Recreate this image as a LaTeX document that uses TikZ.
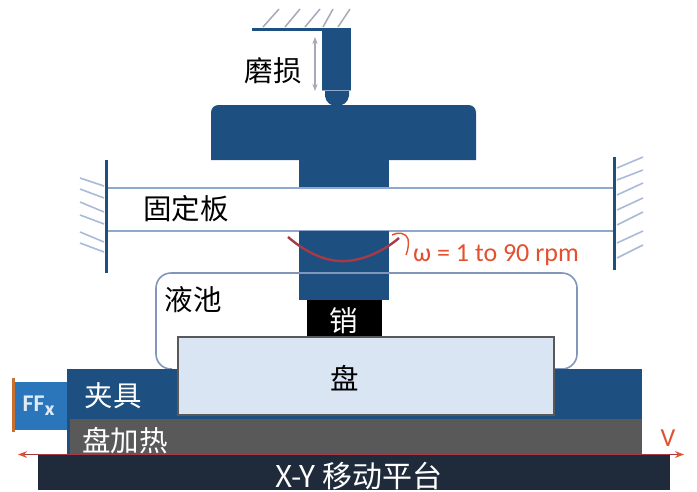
\documentclass[tikz,border=0pt]{standalone}
\usepackage{fontspec}
\usepackage{xcolor}
\setmainfont{Noto Sans CJK SC}
\newfontfamily\latinfont{Carlito}
\usetikzlibrary{arrows.meta}
\definecolor{steel}{HTML}{1D4F80}
\definecolor{plateline}{HTML}{8FA8CC}
\definecolor{pathblue}{HTML}{8296BC}
\definecolor{hatchgray}{HTML}{A8A8B8}
\definecolor{sideblue}{HTML}{A9BBD8}
\definecolor{diskfill}{HTML}{DAE5F3}
\definecolor{heatergray}{HTML}{595959}
\definecolor{stagedark}{HTML}{1F2A3B}
\definecolor{ffblue}{HTML}{2B75BA}
\definecolor{barorange}{HTML}{C8702F}
\definecolor{redline}{HTML}{A83A48}
\definecolor{redtext}{HTML}{E2502F}
\tikzset{
	darklabel/.style={text=black,font=\fontsize{28.5}{28.5}\selectfont,inner sep=0pt},
	lightlabel/.style={text=white,font=\fontsize{28.5}{28.5}\selectfont,inner sep=0pt},
	hatchline/.style={hatchgray,line width=1.5pt},
	sidehatch/.style={sideblue,line width=1.6pt},
}
\begin{document}
\begin{tikzpicture}[x=1pt,y=-1pt]
	\useasboundingbox (0,0) rectangle (697,491);
	
	\foreach \i/\j in {263/279,285/300,305/320,323/333,338/350}{
		\draw[hatchline] (\i,27) -- (\j,9);
	}
	\draw[steel,line width=3pt] (252,29) -- (351,29);
	\fill[steel] (322,29) rectangle (351,90);
	\fill[steel] (325,90) -- (349,90) -- (349,96) .. controls (348,103) and (342,106) .. (337,106) .. controls (331,106) and (326,103) .. (325,96) -- cycle;
	\draw[plateline,line width=0.8pt] (322,90) -- (351,90);
	\draw[{Stealth[length=7pt]}-{Stealth[length=7pt]},hatchgray,line width=1.5pt] (315,37) -- (315,91);
	\fill[steel] (211,160) -- (211,113) .. controls (211,108) and (214,105) .. (219,105) -- (468,105) .. controls (473,105) and (476,108) .. (476,113) -- (476,160) -- cycle;
	\fill[steel] (299,160) rectangle (389,188);
	
	\draw[plateline,line width=2.4pt] (106,188) -- (614,188);
	\draw[plateline,line width=2.4pt] (106,231) -- (614,231);
	\draw[steel,line width=3pt] (106,160) -- (106,273);
	\draw[steel,line width=3pt] (614,157) -- (614,270);
	\foreach \i/\j in {178/186,189/198,202/212,215/224,232/242,243/252}{
		\draw[sidehatch] (80,\i) -- (104,\j);
	}
	\foreach \i/\j in {168/157,180/170,195/183,210/198,225/212,243/231,258/245}{
		\draw[sidehatch] (617,\i) -- (643,\j);
	}
	
	\fill[steel] (299,231) rectangle (389,300);
	\draw[pathblue,line width=1.6pt,rounded corners=15pt] (172,369) -- (156,369) -- (156,273) -- (577,273) -- (577,369) -- (554,369);
	\fill[black] (307,300) rectangle (382,337);
	
	\fill[steel] (67,369) rectangle (642,419);
	\fill[heatergray] (70,419) rectangle (642,454);
	\fill[steel] (67,419) rectangle (70,454);
	\fill[ffblue] (15,382) rectangle (67,430);
	\draw[barorange,line width=3pt] (13,378) -- (13,432);
	\draw[diskfill,fill=diskfill] (178,337) rectangle (554,415);
	\draw[heatergray,line width=2pt] (178,337) rectangle (554,415);
	\fill[stagedark] (38,455) rectangle (670,490);
	\draw[{Stealth[length=9pt,color=redtext]}-{Stealth[length=9pt,color=redtext]},redline,line width=1.8pt] (18,454.5) -- (684,454.5);
	
	\draw[redline,line width=2.4pt] (288,237) .. controls (310,256) and (330,262) .. (346,261) .. controls (365,260) and (385,250) .. (399,238);
	\draw[redtext,line width=1.4pt] (392,235) .. controls (398,232) and (405,232) .. (408,239) .. controls (409,244) and (408,250) .. (406,255);
	
	\node[darklabel] (wearlabel) at (273,71) {磨损};
	\node[darklabel] (platelabel) at (186,209) {固定板};
	\node[darklabel] (bathlabel) at (193,300) {液池};
	\node[lightlabel] (pinlabel) at (344,321) {销};
	\node[darklabel] (disklabel) at (345,378) {盘};
	\node[lightlabel] (fixturelabel) at (113,396) {夹具};
	\node[lightlabel] (heaterlabel) at (125,441) {盘加热};
	\node[lightlabel,font=\fontsize{30}{30}\selectfont] (stagelabel) at (359,476) {X-Y 移动平台};
	\node[text=white!85!ffblue,inner sep=0pt,font=\latinfont\bfseries\fontsize{24}{24}\selectfont] (fflabel) at (39,406) {FF$_{\mathbf{x}}$};
	\node[text=redtext,inner sep=0pt,font=\latinfont\fontsize{26}{26}\selectfont] (speedlabel) at (496,255) {ω = 1 to 90 rpm};
	\node[text=redtext,inner sep=0pt,font=\latinfont\fontsize{26}{26}\selectfont] (vlabel) at (668,438) {V};
\end{tikzpicture}
\end{document}
